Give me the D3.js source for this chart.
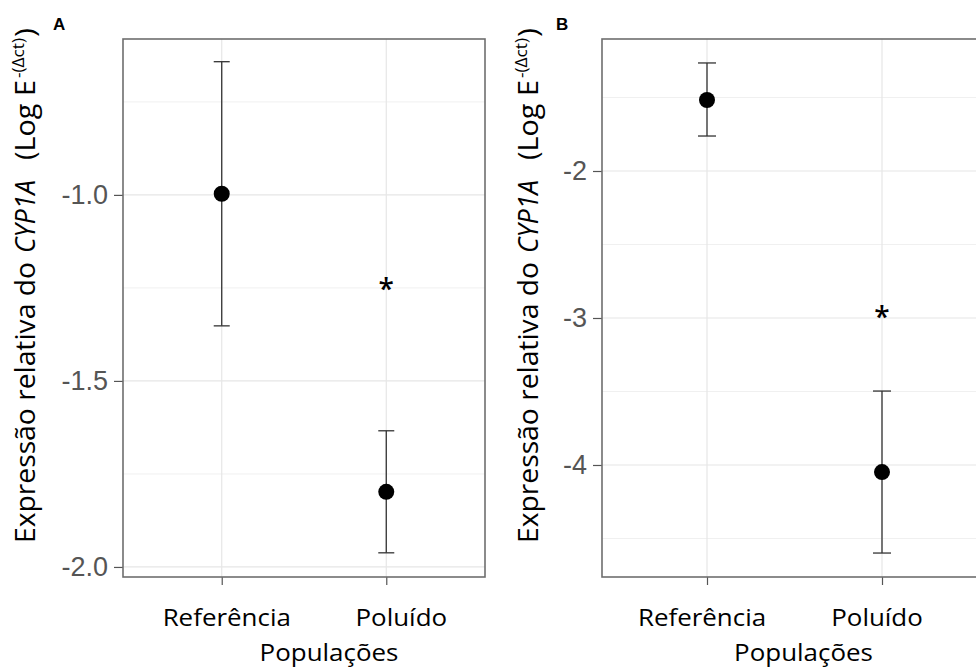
<!DOCTYPE html>
<html><head><meta charset="utf-8">
<script src="https://cdn.jsdelivr.net/npm/d3@7"></script>
<style>body{margin:0;background:#fff}</style>
</head><body>
<svg id="c" width="976" height="668"></svg>
<script>
const categories = ["Referência", "Poluído"];
const meanA = [-0.997, -1.798];
const upperA = [-0.642, -1.634];
const lowerA = [-1.352, -1.962];
const starA = -1.245;
const ticksA = [-2.0, -1.5, -1.0];
const minorA = [-1.75, -1.25, -0.75];
const domainA = [-2.027, -0.581];

const meanB = [-1.517, -4.048];
const upperB = [-1.265, -3.497];
const lowerB = [-1.762, -4.599];
const starB = -2.975;
const ticksB = [-4, -3, -2];
const minorB = [-4.5, -3.5, -2.5, -1.5];
const domainB = [-4.762, -1.102];

const xTitle = "Populações";
const titleParts = [
  {text: "Expressão relativa do", italic: false, sup: false},
  {text: "CYP1A", italic: true, sup: false},
  {text: "(Log E", italic: false, sup: false},
  {text: "-(Δct)", italic: false, sup: true},
  {text: ")", italic: false, sup: false}
];
// layout of the title pieces along the rotated axis: [start y, length]
const titleLayout = [[543, 281], [253, 73], [160, 80], [78, 40], [37, 9]];

const svg = d3.select("#c");
const labFont = "'Open Sans', sans-serif";
const tickFont = "'Liberation Sans', Arial, sans-serif";

function panel(o){
  const g = svg.append("g");
  const x = d3.scalePoint().domain(categories).range([o.left, o.right]).padding(0.6);
  const y = d3.scaleLinear().domain(o.domain).range([o.bottom, o.top]);
  // grid
  g.selectAll(".mn").data(o.minor).join("line")
    .attr("x1", o.left).attr("x2", o.right).attr("y1", d=>y(d)).attr("y2", d=>y(d))
    .attr("stroke", "#f0f0f0").attr("stroke-width", 1);
  g.selectAll(".mj").data(o.ticks).join("line")
    .attr("x1", o.left).attr("x2", o.right).attr("y1", d=>y(d)).attr("y2", d=>y(d))
    .attr("stroke", "#e6e6e6").attr("stroke-width", 1.2);
  g.selectAll(".vx").data(categories).join("line")
    .attr("x1", d=>x(d)).attr("x2", d=>x(d)).attr("y1", o.top).attr("y2", o.bottom)
    .attr("stroke", "#e6e6e6").attr("stroke-width", 1.2);
  // axes
  const ya = g.append("g").attr("transform", `translate(${o.left},0)`)
    .call(d3.axisLeft(y).tickValues(o.ticks).tickFormat(o.fmt).tickSize(9).tickPadding(6));
  ya.select(".domain").remove();
  ya.selectAll("line").attr("stroke", "#555").attr("stroke-width", 1.2);
  ya.selectAll("text").attr("font-family", tickFont).attr("font-size", 27).attr("fill", "#555");
  const xa = g.append("g").attr("transform", `translate(0,${o.bottom})`)
    .call(d3.axisBottom(x).tickSize(8).tickFormat(""));
  xa.select(".domain").remove();
  xa.selectAll("line").attr("stroke", "#555").attr("stroke-width", 1.2);
  // box
  g.append("rect").attr("x", o.left).attr("y", o.top)
    .attr("width", o.right - o.left).attr("height", o.bottom - o.top)
    .attr("fill", "none").attr("stroke", "#6e6e6e").attr("stroke-width", 1.6);
  // error bars
  const cap = o.cap;
  categories.forEach((c, i) => {
    const cx = x(c);
    g.append("line").attr("x1", cx).attr("x2", cx).attr("y1", y(o.upper[i])).attr("y2", y(o.lower[i]))
      .attr("stroke", "#333").attr("stroke-width", 1.3);
    [o.upper[i], o.lower[i]].forEach(v => g.append("line")
      .attr("x1", cx - cap).attr("x2", cx + cap).attr("y1", y(v)).attr("y2", y(v))
      .attr("stroke", "#333").attr("stroke-width", 1.3));
    g.append("circle").attr("cx", cx).attr("cy", y(o.mean[i])).attr("r", 8).attr("fill", "#000");
  });
  g.append("text").attr("x", x(categories[1])).attr("y", y(o.star) + 13)
    .attr("text-anchor", "middle").attr("font-family", labFont).attr("font-size", 28).attr("font-weight", 600)
    .text("*");
  // x labels
  categories.forEach((c, i) => g.append("text")
    .attr("transform", `translate(${x(c) + o.labOff[i]},626) scale(1.08,1)`)
    .attr("text-anchor", "middle").attr("font-family", labFont).attr("font-size", 24).attr("fill", "#000").text(c));
  g.append("text")
    .attr("transform", `translate(${(x(categories[0]) + x(categories[1])) / 2 + o.labOff[2]},661) scale(1.08,1)`)
    .attr("text-anchor", "middle").attr("font-family", labFont).attr("font-size", 24).attr("fill", "#000").text(xTitle);
  // y title, piece by piece
  titleParts.forEach((p, i) => {
    const [sy, len] = titleLayout[i];
    g.append("text")
      .attr("transform", `translate(${o.titleX - (p.sup ? 11 : 0)},${sy}) rotate(-90)`)
      .attr("font-family", labFont).attr("font-size", p.sup ? 17 : 27).attr("fill", "#000")
      .attr("font-style", p.italic ? "italic" : "normal")
      .attr("textLength", len).attr("lengthAdjust", "spacingAndGlyphs")
      .text(p.text);
  });
  // panel label
  g.append("text").attr("x", o.labX).attr("y", 30).attr("font-family", "'Liberation Sans', Arial, sans-serif")
    .attr("font-size", 17).attr("font-weight", 700).text(o.label);
}

panel({left: 123, right: 485, top: 39, bottom: 577, domain: domainA, ticks: ticksA, minor: minorA,
  fmt: d => d.toFixed(1), mean: meanA, upper: upperA, lower: lowerA, star: starA, cap: 8,
  titleX: 35, labX: 53, label: "A", labOff: [5, 15, 25]});
panel({left: 602, right: 987, top: 39, bottom: 577, domain: domainB, ticks: ticksB, minor: minorB,
  fmt: d => d.toFixed(0), mean: meanB, upper: upperB, lower: lowerB, star: starB, cap: 9,
  titleX: 538, labX: 556, label: "B", labOff: [-5, -5, 9]});
</script>
</body></html>
